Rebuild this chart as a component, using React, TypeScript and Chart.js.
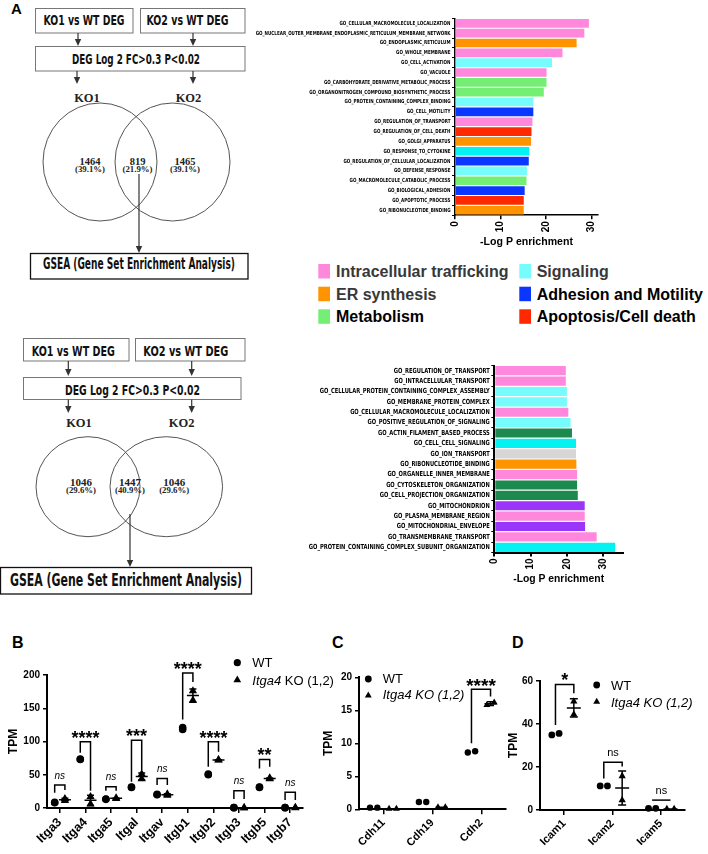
import React, { useEffect, useRef } from 'react';
import { Chart, registerables } from 'chart.js';

Chart.register(...registerables);

const SANS = "'Liberation Sans', Arial, Helvetica, sans-serif";
const SERIF = "'Liberation Serif', 'Times New Roman', serif";
const NARROW_CSS = "'Liberation Sans Narrow', 'Arial Narrow', 'DejaVu Sans Condensed', 'Liberation Sans', Arial, sans-serif";

// ---------- Panel A: GO enrichment (upper, 819 shared genes) ----------
const goTopTerms = [
  'GO_CELLULAR_MACROMOLECULE_LOCALIZATION',
  'GO_NUCLEAR_OUTER_MEMBRANE_ENDOPLASMIC_RETICULUM_MEMBRANE_NETWORK',
  'GO_ENDOPLASMIC_RETICULUM',
  'GO_WHOLE_MEMBRANE',
  'GO_CELL_ACTIVATION',
  'GO_VACUOLE',
  'GO_CARBOHYDRATE_DERIVATIVE_METABOLIC_PROCESS',
  'GO_ORGANONITROGEN_COMPOUND_BIOSYNTHETIC_PROCESS',
  'GO_PROTEIN_CONTAINING_COMPLEX_BINDING',
  'GO_CELL_MOTILITY',
  'GO_REGULATION_OF_TRANSPORT',
  'GO_REGULATION_OF_CELL_DEATH',
  'GO_GOLGI_APPARATUS',
  'GO_RESPONSE_TO_CYTOKINE',
  'GO_REGULATION_OF_CELLULAR_LOCALIZATION',
  'GO_DEFENSE_RESPONSE',
  'GO_MACROMOLECULE_CATABOLIC_PROCESS',
  'GO_BIOLOGICAL_ADHESION',
  'GO_APOPTOTIC_PROCESS',
  'GO_RIBONUCLEOTIDE_BINDING',
];
const goTopScores = [29.4, 28.4, 26.7, 23.6, 21.3, 20.1, 20.1, 19.5, 17.2, 17.2, 17.0, 16.8, 16.7, 16.3, 16.2, 15.8, 15.7, 15.3, 15.1, 15.1];
const goTopClass = ['traffic', 'traffic', 'er', 'traffic', 'signal', 'traffic', 'metab', 'metab', 'signal', 'adhesion', 'traffic', 'death', 'er', 'signal2', 'adhesion', 'signal', 'metab', 'adhesion', 'death', 'er'];
const goTopTicks = [0, 10, 20, 30];

// ---------- Panel A: GO enrichment (lower, 1447 shared genes) ----------
const goBottomTerms = [
  'GO_REGULATION_OF_TRANSPORT',
  'GO_INTRACELLULAR_TRANSPORT',
  'GO_CELLULAR_PROTEIN_CONTAINING_COMPLEX_ASSEMBLY',
  'GO_MEMBRANE_PROTEIN_COMPLEX',
  'GO_CELLULAR_MACROMOLECULE_LOCALIZATION',
  'GO_POSITIVE_REGULATION_OF_SIGNALING',
  'GO_ACTIN_FILAMENT_BASED_PROCESS',
  'GO_CELL_CELL_SIGNALING',
  'GO_ION_TRANSPORT',
  'GO_RIBONUCLEOTIDE_BINDING',
  'GO_ORGANELLE_INNER_MEMBRANE',
  'GO_CYTOSKELETON_ORGANIZATION',
  'GO_CELL_PROJECTION_ORGANIZATION',
  'GO_MITOCHONDRION',
  'GO_PLASMA_MEMBRANE_REGION',
  'GO_MITOCHONDRIAL_ENVELOPE',
  'GO_TRANSMEMBRANE_TRANSPORT',
  'GO_PROTEIN_CONTAINING_COMPLEX_SUBUNIT_ORGANIZATION',
];
const goBottomScores = [19.7, 19.7, 20.0, 20.0, 20.4, 21.0, 21.4, 22.5, 22.5, 22.6, 22.8, 22.8, 23.0, 24.9, 24.9, 25.0, 28.2, 33.3];
const goBottomClass = ['traffic', 'traffic', 'signal', 'signal', 'traffic', 'signal', 'cyto', 'signal2', 'ion', 'er', 'traffic', 'cyto', 'cyto', 'mito', 'traffic', 'mito', 'traffic', 'signal2'];
const goBottomTicks = [0, 10, 20, 30];

const classColors: Record<string, string> = {
  traffic: '#FF88DC',
  er: '#FF9300',
  metab: '#74EF74',
  signal: '#76FCFC',
  signal2: '#05F2F2',
  adhesion: '#0B36FF',
  death: '#FF2900',
  cyto: '#1C8A4F',
  ion: '#D6D6D6',
  mito: '#9B35FA',
};

const legendLabels = ['Intracellular trafficking', 'Signaling', 'ER synthesis', 'Adhesion and Motility', 'Metabolism', 'Apoptosis/Cell death'];
const legendClasses = ['traffic', 'signal', 'er', 'adhesion', 'metab', 'death'];

// ---------- Venn counts ----------
const vennTopCounts = ['1464', '819', '1465'];
const vennTopPct = ['(39.1%)', '(21.9%)', '(39.1%)'];
const vennBottomCounts = ['1046', '1447', '1046'];
const vennBottomPct = ['(29.6%)', '(40.9%)', '(29.6%)'];

// ---------- Panel B: integrins ----------
const genesB = ['Itga3', 'Itga4', 'Itga5', 'Itgal', 'Itgav', 'Itgb1', 'Itgb2', 'Itgb3', 'Itgb5', 'Itgb7'];
const wtB = [[8, 8.5], [73, 73.5], [13, 13.5], [31, 31.5], [20, 20.5], [121, 118], [50, 51], [0.5, 0.5], [31, 31.5], [0.5, 0.5]];
const koB = [[14, 11], [17, 6], [15, 14], [51, 44], [21, 19], [176, 162], [72, 72.5], [0.3, 0.3], [45, 44], [0.5, 0.4]];
const sigB = ['ns', '****', 'ns', '***', 'ns', '****', '****', 'ns', '**', 'ns'];
const bracketTopB = [34.5, 99.5, 32, 102, 44.5, 203, 99.5, 26, 73, 23.5];
const bracketWtEndB = [23, 83, 26, 39.5, 34.5, 133, 62, 13.5, 59.5, 12];
const bracketKoEndB = [27, 26, 26, 57, 34.5, 189.5, 84.5, 13.5, 62, 12];

// ---------- Panel C: cadherins ----------
const genesC = ['Cdh11', 'Cdh19', 'Cdh2'];
const wtC = [[0.25, 0.25], [1.1, 1.1], [8.6, 8.8]];
const koC = [[0.1, 0.1], [0.3, 0.3], [15.8, 16.2]];
const sigC = ['', '', '****'];
const bracketTopC = [0, 0, 18.2];
const bracketWtEndC = [0, 0, 10];
const bracketKoEndC = [0, 0, 17.1];

// ---------- Panel D: ICAMs ----------
const genesD = ['Icam1', 'Icam2', 'Icam5'];
const wtD = [[34.9, 35.6], [11.2, 11.2], [0.8, 0.8]];
const koD = [[50.5, 44.5], [15.8, 4.6], [0.5, 0.5]];
const sigD = ['*', 'ns', 'ns'];
const bracketTopD = [58.4, 22.2, 4.6];
const bracketWtEndD = [39.5, 14.7, 4.6];
const bracketKoEndD = [54.3, 20.2, 4.6];

// ---------- helpers ----------
type Box = { left: number; top: number; width: number; height: number };
type Area = { left: number; top: number; right: number; bottom: number };

const mean = (a: number[]) => a.reduce((s, v) => s + v, 0) / a.length;
const stdev = (a: number[]) => {
  const m = mean(a);
  return Math.sqrt(a.reduce((s, v) => s + (v - m) ** 2, 0) / (a.length - 1));
};

function measure(font: string, text: string) {
  const c = document.createElement('canvas').getContext('2d')!;
  c.font = font;
  return c.measureText(text).width;
}
function hasFamily(f: string) {
  const t = 'GO_CELLULAR_MACROMOLECULE_mwil';
  return Math.abs(measure('bold 20px monospace', t) - measure(`bold 20px ${f}, monospace`, t)) > 0.5;
}
function narrowFamily() {
  const cands = ["'Liberation Sans Narrow'", "'Arial Narrow'", "'DejaVu Sans Condensed'"];
  const f = cands.find(hasFamily);
  return f ? `${f}, ${SANS}` : SANS;
}

// ---------- GO bar chart ----------
type GoProps = {
  terms: string[]; scores: number[]; classes: string[]; ticks: number[]; box: Box; area: Area; xMax: number;
  labelSize: number; refLabel: string; refWidth: number; titleWidth: number; titleY: number; axisWidth: number;
};

function GoChart(p: GoProps) {
  const ref = useRef<HTMLCanvasElement>(null);
  useEffect(() => {
    const narrow = narrowFamily();
    const labelFont = `bold ${p.labelSize}px ${narrow}`;
    const sx = p.refWidth / measure(labelFont, p.refLabel);
    const titleSize = (20 * p.titleWidth) / measure(`bold 20px ${SANS}`, '-Log P enrichment');
    const a = {
      left: p.area.left - p.box.left,
      top: p.area.top - p.box.top,
      right: p.area.right - p.box.left,
      bottom: p.area.bottom - p.box.top,
    };
    const titlePad = p.box.top + p.box.height - p.titleY - titleSize * 0.6;
    const tickLen = 3;
    // GO term labels: condensed (Arial-Narrow-like) text at each category tick of the y scale
    const termLabels = {
      id: 'goTermLabels',
      afterDraw(chart: any) {
        const ys = chart.scales.y;
        const ctx = chart.ctx;
        ctx.save();
        ctx.fillStyle = '#000';
        ctx.font = labelFont;
        ctx.textAlign = 'right';
        ctx.textBaseline = 'middle';
        p.terms.forEach((t, i) => {
          ctx.save();
          ctx.translate(ys.right - tickLen - 1.5, ys.getPixelForTick(i));
          ctx.scale(sx, 1);
          ctx.fillText(t, 0, 0);
          ctx.restore();
        });
        ctx.restore();
      },
    };
    const chart = new Chart(ref.current!, {
      type: 'bar',
      data: {
        labels: p.terms,
        datasets: [{
          data: p.scores,
          backgroundColor: p.classes.map((c) => classColors[c]),
          borderWidth: 0,
          barPercentage: 0.88,
          categoryPercentage: 1,
        }],
      },
      options: {
        indexAxis: 'y',
        responsive: false,
        animation: false,
        devicePixelRatio: 1,
        events: [],
        layout: { padding: { left: 0, top: a.top, right: p.box.width - a.right, bottom: 0 } },
        plugins: { legend: { display: false }, tooltip: { enabled: false } },
        scales: {
          y: {
            type: 'category',
            ticks: { display: false, autoSkip: false },
            grid: { drawOnChartArea: false, drawTicks: true, tickLength: tickLen, color: '#000', lineWidth: 1 },
            border: { display: true, color: '#000', width: p.axisWidth },
            afterFit: (s: any) => { s.width = a.left; },
          },
          x: {
            type: 'linear',
            min: 0,
            max: p.xMax,
            afterBuildTicks: (s: any) => { s.ticks = p.ticks.map((v) => ({ value: v })); },
            ticks: {
              autoSkip: false, minRotation: 90, maxRotation: 90, padding: 2, color: '#000',
              font: { family: SANS, size: 10, weight: 'bold' },
            },
            grid: { drawOnChartArea: false, drawTicks: true, tickLength: 4, color: '#000', lineWidth: p.axisWidth },
            border: { display: true, color: '#000', width: p.axisWidth },
            title: {
              display: true, text: '-Log P enrichment', color: '#000',
              font: { family: SANS, size: titleSize, weight: 'bold' },
              padding: { top: 0, bottom: titlePad },
            },
            afterFit: (s: any) => { s.height = p.box.height - a.bottom; },
          },
        },
      } as any,
      plugins: [termLabels],
    });
    return () => chart.destroy();
  }, []);
  return (
    <canvas ref={ref} width={p.box.width} height={p.box.height}
      style={{ position: 'absolute', left: p.box.left, top: p.box.top, width: p.box.width, height: p.box.height }} />
  );
}

// ---------- dot plots (B, C, D) ----------
type FontSpec = { style: string; weight: string; size: number };
type DotProps = {
  genes: string[]; wt: number[][]; ko: number[][]; sig: string[]; top: number[]; wtEnd: number[]; koEnd: number[];
  yMax: number; yStep: number; box: Box; area: Area;
  wtCenter: number; koCenter: number; spread: number; rWT: number; rKO: number;
  xFont: FontSpec; titleX: number;
  legend: { x: number; y1: number; y2: number; tx: number; b1: number; b2: number; size: number; italicAll: boolean; r1: number; r2: number };
  nsFont: FontSpec; starSize: number; meanHalf: number; capHalf: number;
};

function triangle(ctx: CanvasRenderingContext2D, x: number, y: number, r: number) {
  ctx.beginPath();
  for (let k = 0; k < 3; k++) {
    const ang = (k * 2 * Math.PI) / 3;
    const px = x + Math.sin(ang) * r;
    const py = y - Math.cos(ang) * r;
    if (k === 0) ctx.moveTo(px, py); else ctx.lineTo(px, py);
  }
  ctx.closePath();
  ctx.fill();
}

function DotPlot(p: DotProps) {
  const ref = useRef<HTMLCanvasElement>(null);
  useEffect(() => {
    const a = {
      left: p.area.left - p.box.left,
      top: p.area.top - p.box.top,
      right: p.area.right - p.box.left,
      bottom: p.area.bottom - p.box.top,
    };
    const thresh = p.yMax * 0.04;
    // replicate values that (nearly) coincide are spread sideways, GraphPad-style
    const toPoints = (groups: number[][], center: number) =>
      groups.flatMap((vals, i) => {
        const close = Math.abs(vals[0] - vals[1]) <= thresh;
        return vals.map((v, j) => ({ x: i + center + (close ? (j ? p.spread : -p.spread) : 0), y: v }));
      });
    const extras = {
      id: 'dotExtras',
      afterDatasetsDraw(chart: any) {
        const ctx: CanvasRenderingContext2D = chart.ctx;
        const xs = chart.scales.x;
        const ys = chart.scales.y;
        ctx.save();
        ctx.strokeStyle = '#000';
        ctx.fillStyle = '#000';
        ctx.lineWidth = 1.5;
        // mean ± SD of the KO replicates
        p.ko.forEach((vals, i) => {
          const m = mean(vals);
          const s = stdev(vals);
          const cx = xs.getPixelForValue(i + p.koCenter);
          const ym = ys.getPixelForValue(m);
          const y1 = ys.getPixelForValue(m - s);
          const y2 = ys.getPixelForValue(m + s);
          ctx.beginPath();
          ctx.moveTo(cx - p.meanHalf, ym); ctx.lineTo(cx + p.meanHalf, ym);
          ctx.moveTo(cx, y1); ctx.lineTo(cx, y2);
          ctx.moveTo(cx - p.capHalf, y1); ctx.lineTo(cx + p.capHalf, y1);
          ctx.moveTo(cx - p.capHalf, y2); ctx.lineTo(cx + p.capHalf, y2);
          ctx.stroke();
        });
        // significance brackets
        p.sig.forEach((s, i) => {
          if (!s) return;
          const xL = xs.getPixelForValue(i + p.wtCenter);
          const xR = xs.getPixelForValue(i + p.koCenter);
          const yT = ys.getPixelForValue(p.top[i]);
          const yL = ys.getPixelForValue(p.wtEnd[i]);
          const yR = ys.getPixelForValue(p.koEnd[i]);
          ctx.beginPath();
          ctx.moveTo(xL, yL); ctx.lineTo(xL, yT); ctx.lineTo(xR, yT); ctx.lineTo(xR, yR);
          ctx.stroke();
          const star = s.includes('*');
          const f = star ? { style: 'normal', weight: 'bold', size: p.starSize } : p.nsFont;
          ctx.font = `${f.style} ${f.weight} ${f.size}px ${SANS}`;
          ctx.textAlign = 'center';
          ctx.textBaseline = 'alphabetic';
          const cy = yT - 9;
          ctx.fillText(s, (xL + xR) / 2, cy + (star ? 0.6 : 0.27) * f.size);
        });
        // legend
        const L = p.legend;
        const ox = p.box.left;
        const oy = p.box.top;
        ctx.beginPath();
        ctx.arc(L.x - ox, L.y1 - oy, L.r1, 0, Math.PI * 2);
        ctx.fill();
        triangle(ctx, L.x - ox, L.y2 - oy, L.r2);
        ctx.textAlign = 'left';
        ctx.textBaseline = 'alphabetic';
        ctx.font = `normal normal ${L.size}px ${SANS}`;
        ctx.fillText('WT', L.tx - ox, L.b1 - oy);
        if (L.italicAll) {
          ctx.font = `italic normal ${L.size}px ${SANS}`;
          ctx.fillText('Itga4 KO (1,2)', L.tx - ox, L.b2 - oy);
        } else {
          ctx.font = `italic normal ${L.size}px ${SANS}`;
          ctx.fillText('Itga4', L.tx - ox, L.b2 - oy);
          const w = ctx.measureText('Itga4').width;
          ctx.font = `normal normal ${L.size}px ${SANS}`;
          ctx.fillText(' KO (1,2)', L.tx - ox + w, L.b2 - oy);
        }
        ctx.restore();
      },
    };
    const axisGrid = { drawOnChartArea: false, drawTicks: true, color: '#000', lineWidth: 1.5 };
    const chart = new Chart(ref.current!, {
      type: 'scatter',
      data: {
        datasets: [
          { label: 'WT', data: toPoints(p.wt, p.wtCenter), pointStyle: 'circle', pointRadius: p.rWT, backgroundColor: '#000', borderColor: '#000', borderWidth: 0, clip: false },
          { label: 'Itga4 KO (1,2)', data: toPoints(p.ko, p.koCenter), pointStyle: 'triangle', pointRadius: p.rKO, backgroundColor: '#000', borderColor: '#000', borderWidth: 0, clip: false },
        ],
      },
      options: {
        responsive: false,
        animation: false,
        devicePixelRatio: 1,
        events: [],
        layout: { padding: { left: 0, top: a.top, right: p.box.width - a.right, bottom: 0 } },
        plugins: { legend: { display: false }, tooltip: { enabled: false } },
        scales: {
          x: {
            type: 'linear',
            min: -0.5,
            max: p.genes.length - 0.5,
            afterBuildTicks: (s: any) => { s.ticks = p.genes.map((_, i) => ({ value: i })); },
            ticks: {
              autoSkip: false, minRotation: 45, maxRotation: 45, padding: 2, color: '#000',
              font: { family: SANS, size: p.xFont.size, weight: p.xFont.weight, style: p.xFont.style },
              callback: (v: any) => p.genes[Math.round(v)] ?? '',
            },
            grid: { ...axisGrid, tickLength: 5 },
            border: { display: true, color: '#000', width: 2 },
            afterFit: (s: any) => { s.height = p.box.height - a.bottom; },
          },
          y: {
            type: 'linear',
            min: 0,
            max: p.yMax,
            ticks: { stepSize: p.yStep, padding: 3, color: '#000', font: { family: SANS, size: 10, weight: 'bold' } },
            grid: { ...axisGrid, tickLength: 4 },
            border: { display: true, color: '#000', width: 2 },
            title: {
              display: true, text: 'TPM', color: '#000',
              font: { family: SANS, size: 12, weight: 'bold' },
              padding: { top: p.titleX - 7.2, bottom: 0 },
            },
            afterFit: (s: any) => { s.width = a.left; },
          },
        },
      } as any,
      plugins: [extras],
    });
    return () => chart.destroy();
  }, []);
  return (
    <canvas ref={ref} width={p.box.width} height={p.box.height}
      style={{ position: 'absolute', left: p.box.left, top: p.box.top, width: p.box.width, height: p.box.height }} />
  );
}

// ---------- flow diagrams / Venn / legend ----------
function Arrow({ x, y1, y2 }: { x: number; y1: number; y2: number }) {
  return (
    <g>
      <line x1={x} y1={y1} x2={x} y2={y2 - 5} stroke="#333" strokeWidth={1.2} />
      <polygon points={`${x - 3.2},${y2 - 7} ${x + 3.2},${y2 - 7} ${x},${y2}`} fill="#333" />
    </g>
  );
}

function NText({ x, y, size, len, children, fill = '#111' }: any) {
  return (
    <text x={x} y={y} textAnchor="middle" fontFamily={NARROW_CSS} fontWeight="bold" fontSize={size}
      textLength={len} lengthAdjust="spacingAndGlyphs" fill={fill}>{children}</text>
  );
}

function Venn({ cy, left, right, counts, pct, xs, base, numSize }: any) {
  return (
    <g>
      <ellipse cx={left.cx} cy={cy} rx={left.rx} ry={left.ry} fill="none" stroke="#555" strokeWidth={1} />
      <ellipse cx={right.cx} cy={cy} rx={right.rx} ry={right.ry} fill="none" stroke="#555" strokeWidth={1} />
      {counts.map((c: string, i: number) => (
        <g key={i}>
          <text x={xs[i]} y={base} textAnchor="middle" fontFamily={SERIF} fontWeight="bold" fontSize={numSize} fill="#222">{c}</text>
          <text x={xs[i]} y={base + 7} textAnchor="middle" fontFamily={SERIF} fontWeight="bold" fontSize={8.8} fill="#222">{pct[i]}</text>
        </g>
      ))}
    </g>
  );
}

function Diagram() {
  return (
    <svg width={708} height={854} style={{ position: 'absolute', left: 0, top: 0 }}>
      {/* panel letters */}
      <text x={11} y={14} fontFamily={SANS} fontWeight="bold" fontSize={15}>A</text>
      <text x={12} y={648} fontFamily={SANS} fontWeight="bold" fontSize={16}>B</text>
      <text x={332} y={648} fontFamily={SANS} fontWeight="bold" fontSize={16}>C</text>
      <text x={512} y={648} fontFamily={SANS} fontWeight="bold" fontSize={16}>D</text>

      {/* upper flow */}
      <rect x={35.5} y={8.5} width={97.5} height={24.5} fill="none" stroke="#777" />
      <NText x={84} y={25} size={14} len={81}>KO1 vs WT DEG</NText>
      <rect x={140.5} y={8.5} width={104.5} height={24.5} fill="none" stroke="#777" />
      <NText x={187.5} y={25} size={14} len={82}>KO2 vs WT DEG</NText>
      <Arrow x={78} y1={33} y2={46} />
      <Arrow x={193} y1={33} y2={46} />
      <rect x={35.5} y={46.5} width={209.5} height={24.5} fill="none" stroke="#777" />
      <NText x={136} y={63.5} size={14} len={128}>DEG Log 2 FC&gt;0.3 P&lt;0.02</NText>
      <Arrow x={77} y1={71} y2={84} />
      <Arrow x={193} y1={71} y2={84} />
      <text x={87} y={102} textAnchor="middle" fontFamily={SERIF} fontWeight="bold" fontSize={12.5} fill="#222">KO1</text>
      <text x={188.5} y={102} textAnchor="middle" fontFamily={SERIF} fontWeight="bold" fontSize={12.5} fill="#222">KO2</text>
      <Venn cy={162} left={{ cx: 100, rx: 57, ry: 59 }} right={{ cx: 172.5, rx: 57.5, ry: 59 }}
        counts={vennTopCounts} pct={vennTopPct} xs={[90, 137.5, 185]} base={164.5} numSize={10.5} />
      <Arrow x={139} y1={174} y2={253} />
      <rect x={30.5} y={253.5} width={217.5} height={25.5} fill="none" stroke="#111" strokeWidth={1.3} />
      <NText x={139} y={268.5} size={15} len={192}>GSEA (Gene Set Enrichment Analysis)</NText>

      {/* lower flow */}
      <rect x={23.5} y={338.5} width={105.5} height={22.5} fill="none" stroke="#777" />
      <NText x={73.3} y={356} size={14.5} len={83}>KO1 vs WT DEG</NText>
      <rect x={135.5} y={338.5} width={109.5} height={22.5} fill="none" stroke="#777" />
      <NText x={185.8} y={356} size={14.5} len={85}>KO2 vs WT DEG</NText>
      <Arrow x={68.3} y1={361} y2={376} />
      <Arrow x={191.7} y1={361} y2={376} />
      <rect x={23.5} y={377.5} width={217.5} height={22} fill="none" stroke="#777" />
      <NText x={132.5} y={395} size={14} len={135}>DEG Log 2 FC&gt;0.3 P&lt;0.02</NText>
      <Arrow x={68.3} y1={399.5} y2={413} />
      <Arrow x={191.7} y1={399.5} y2={413} />
      <text x={79} y={426.7} textAnchor="middle" fontFamily={SERIF} fontWeight="bold" fontSize={12.5} fill="#222">KO1</text>
      <text x={181.7} y={426.7} textAnchor="middle" fontFamily={SERIF} fontWeight="bold" fontSize={12.5} fill="#222">KO2</text>
      <Venn cy={486.7} left={{ cx: 88, rx: 52, ry: 50 }} right={{ cx: 166.3, rx: 56.3, ry: 50 }}
        counts={vennBottomCounts} pct={vennBottomPct} xs={[81, 130, 174.2]} base={486} numSize={11} />
      <Arrow x={130} y1={514} y2={567} />
      <rect x={0.5} y={567.5} width={251} height={26.5} fill="none" stroke="#111" strokeWidth={1.3} />
      <NText x={126} y={585.5} size={17} len={232}>GSEA (Gene Set Enrichment Analysis)</NText>

      {/* category legend */}
      {legendLabels.map((lab, i) => {
        const col = i % 2;
        const row = Math.floor(i / 2);
        const sqX = col ? 519.3 : 318.3;
        const txX = col ? 536.7 : 336;
        const sqY = [264, 286.7, 309.3][row];
        const base = [276.7, 300, 322.3][row];
        const dark = ['Intracellular trafficking', 'Signaling', 'ER synthesis'].includes(lab);
        return (
          <g key={lab}>
            <rect x={sqX} y={sqY} width={11.7} height={14.5} fill={classColors[legendClasses[i]]} />
            <text x={txX} y={base} fontFamily={SANS} fontWeight="bold" fontSize={16} fill={dark ? '#383838' : '#000'}>{lab}</text>
          </g>
        );
      })}
    </svg>
  );
}

export default function App() {
  return (
    <div style={{ position: 'absolute', left: 0, top: 0, width: 708, height: 854, overflow: 'hidden', background: '#fff' }}>
      <Diagram />
      <GoChart terms={goTopTerms} scores={goTopScores} classes={goTopClass} ticks={goTopTicks}
        box={{ left: 255, top: 6, width: 355, height: 249 }}
        area={{ left: 455, top: 18.4, right: 598, bottom: 215.2 }}
        xMax={31.4} labelSize={5.6} refLabel="GO_CELLULAR_MACROMOLECULE_LOCALIZATION" refWidth={111}
        titleWidth={93} titleY={242} axisWidth={1.5} />
      <GoChart terms={goBottomTerms} scores={goBottomScores} classes={goBottomClass} ticks={goBottomTicks}
        box={{ left: 285, top: 355, width: 355, height: 237 }}
        area={{ left: 494.3, top: 365.5, right: 623, bottom: 552.5 }}
        xMax={35.45} labelSize={7} refLabel="GO_PROTEIN_CONTAINING_COMPLEX_SUBUNIT_ORGANIZATION" refWidth={181}
        titleWidth={91} titleY={579} axisWidth={2} />
      <DotPlot genes={genesB} wt={wtB} ko={koB} sig={sigB} top={bracketTopB} wtEnd={bracketWtEndB} koEnd={bracketKoEndB}
        yMax={200} yStep={50}
        box={{ left: 0, top: 630, width: 342, height: 224 }}
        area={{ left: 47, top: 675, right: 303, bottom: 808 }}
        wtCenter={-0.2} koCenter={0.2} spread={0} rWT={3.8} rKO={4.8}
        xFont={{ style: 'normal', weight: 'bold', size: 12.5 }} titleX={14}
        legend={{ x: 237.3, y1: 662.7, y2: 680, tx: 252.3, b1: 666.7, b2: 685, size: 13, italicAll: false, r1: 3.6, r2: 4.5 }}
        nsFont={{ style: 'italic', weight: 'normal', size: 10 }} starSize={18} meanHalf={6} capHalf={3.5} />
      <DotPlot genes={genesC} wt={wtC} ko={koC} sig={sigC} top={bracketTopC} wtEnd={bracketWtEndC} koEnd={bracketKoEndC}
        yMax={20} yStep={5}
        box={{ left: 315, top: 630, width: 205, height: 224 }}
        area={{ left: 359, top: 677.3, right: 505.7, bottom: 809.3 }}
        wtCenter={-0.2} koCenter={0.19} spread={0.075} rWT={3.2} rKO={4}
        xFont={{ style: 'normal', weight: 'bold', size: 11 }} titleX={14}
        legend={{ x: 368.3, y1: 679, y2: 695.5, tx: 382.7, b1: 683.3, b2: 699.3, size: 13, italicAll: true, r1: 3.4, r2: 4 }}
        nsFont={{ style: 'normal', weight: 'normal', size: 11 }} starSize={19} meanHalf={6} capHalf={3.5} />
      <DotPlot genes={genesD} wt={wtD} ko={koD} sig={sigD} top={bracketTopD} wtEnd={bracketWtEndD} koEnd={bracketKoEndD}
        yMax={60} yStep={20}
        box={{ left: 505, top: 630, width: 203, height: 224 }}
        area={{ left: 540, top: 681, right: 685, bottom: 810 }}
        wtCenter={-0.18} koCenter={0.2} spread={0.075} rWT={3.4} rKO={4.2}
        xFont={{ style: 'normal', weight: 'bold', size: 11 }} titleX={9}
        legend={{ x: 596.7, y1: 685, y2: 701.7, tx: 611, b1: 690, b2: 707.3, size: 13, italicAll: true, r1: 3.4, r2: 4 }}
        nsFont={{ style: 'normal', weight: 'normal', size: 11 }} starSize={18} meanHalf={7} capHalf={4} />
    </div>
  );
}
